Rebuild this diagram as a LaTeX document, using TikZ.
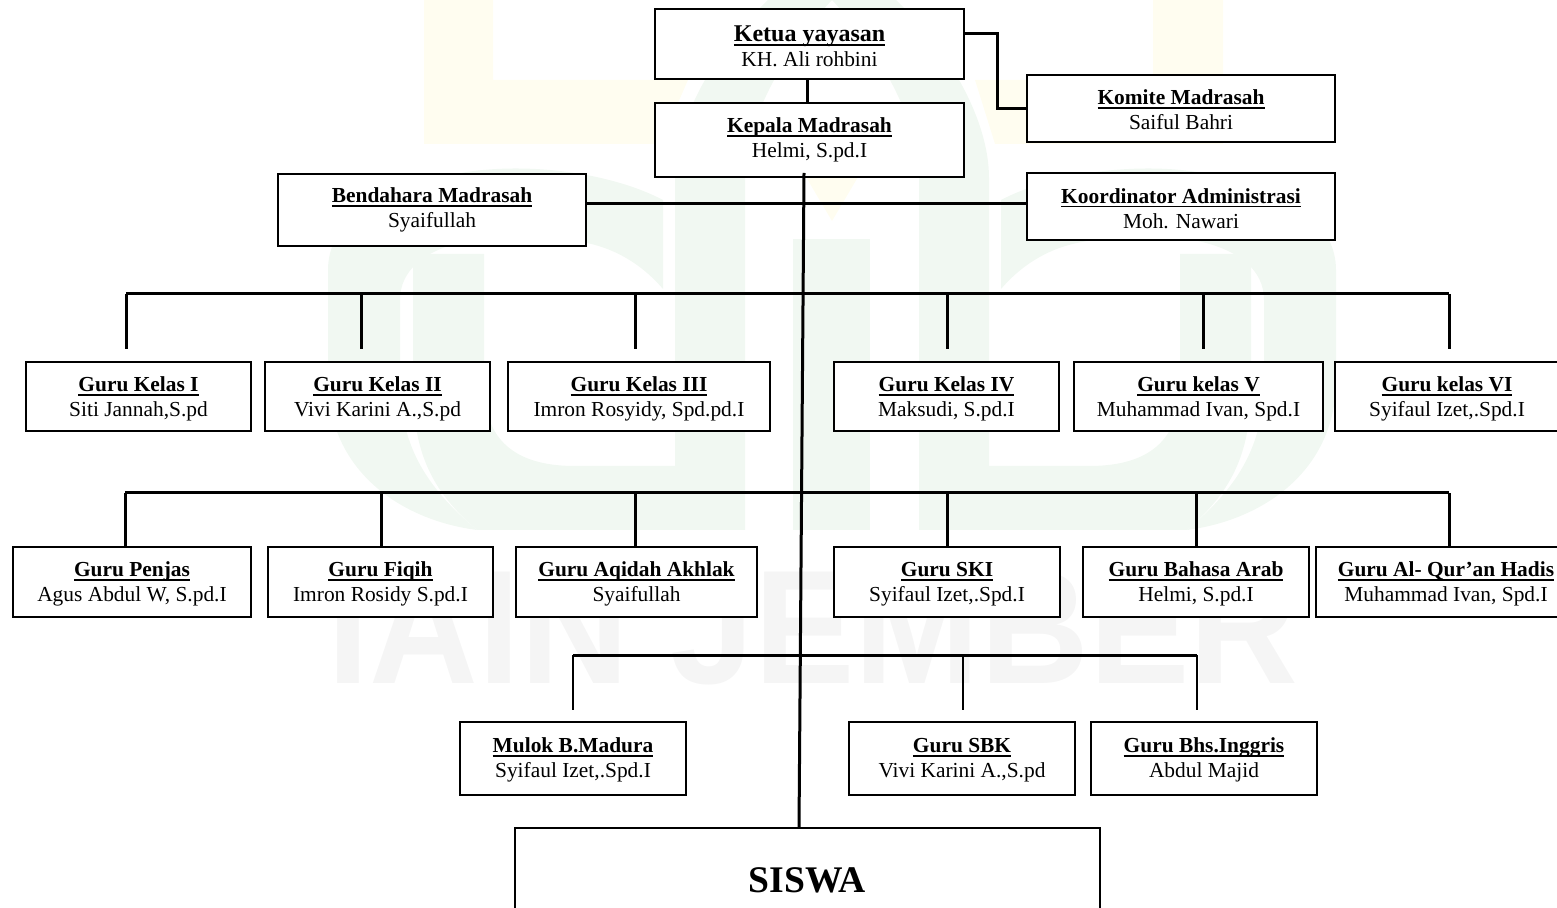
\documentclass[tikz,border=0pt]{standalone}
\usepackage{fontspec}
\setmainfont{Liberation Serif}
\setsansfont{Liberation Sans}
\definecolor{wmgreen}{HTML}{F1F8F2}
\definecolor{wmyellow}{HTML}{FFFDF0}
\definecolor{wmgray}{HTML}{F5F5F5}
\newsavebox{\headbox}
\newcommand{\orgtext}[3][10]{\sbox{\headbox}{\bfseries #2}\rule{0pt}{#1pt}\smash{\rlap{\rule[-2.1pt]{\wd\headbox}{0.9pt}}\usebox{\headbox}}\\#3\rule[-2.75pt]{0pt}{2.75pt}}
\newcommand{\logoside}{%
\fill[wmgreen] (663,200) .. controls (610,172) and (520,160) .. (450,175)
  .. controls (370,190) and (328,225) .. (328,270) -- (328,380)
  .. controls (328,470) and (400,520) .. (477,530)
  .. controls (430,490) and (400,450) .. (400,380) -- (400,300)
  .. controls (400,240) and (500,225) .. (587,243)
  .. controls (620,250) and (645,268) .. (663,289) -- cycle;
\fill[wmgreen] (413,254) -- (484,254) -- (484,385)
  .. controls (484,440) and (515,466) .. (575,466) -- (675,466) -- (675,178)
  .. controls (675,120) and (715,50) .. (768,0) -- (832,0)
  .. controls (785,50) and (745,120) .. (745,178) -- (745,530) -- (477,530)
  .. controls (430,490) and (413,450) .. (413,385) -- cycle;
}
\tikzset{
  orgbox/.style={draw=black,fill=white,line width=1.1pt,inner sep=0pt,outer sep=0pt,align=center,
    font=\fontsize{10.7}{12.5}\selectfont},
  linkline/.style={draw=black,line width=1.5pt},
  thinlink/.style={draw=black,line width=1.2pt}
}
\begin{document}
\begin{tikzpicture}[x=0.5pt,y=-0.5pt]
\useasboundingbox (0,0) rectangle (1557,908);

% watermark
\fill[wmyellow] (424,0) -- (493,0) -- (493,80) -- (688,80) -- (660,144) -- (424,144) -- cycle;
\fill[wmyellow] (1223,0) -- (1153,0) -- (1153,80) -- (975,80) -- (995,144) -- (1223,144) -- cycle;
\fill[wmyellow] (790,150) -- (874,150) -- (832,221) -- cycle;
\logoside
\begin{scope}[shift={(1664,0)},xscale=-1]
\logoside
\end{scope}
\fill[wmgreen] (793,239) rectangle (870,530);
\node[text=wmgray,font=\sffamily\bfseries\fontsize{81}{81}\selectfont,xscale=0.93,inner sep=0pt] (wmtext) at (813,629) {IAIN JEMBER};

% top
\node[orgbox,minimum width=154.5pt,minimum height=35pt] (ketua) at (809.5,44) {\orgtext[13]{\fontsize{12}{12}\selectfont Ketua yayasan}{KH. Ali rohbini}};
\node[orgbox,minimum width=154.5pt,minimum height=37pt] (kepala) at (809.5,140) {\orgtext[8]{Kepala Madrasah}{Helmi, S.pd.I}};
\node[orgbox,minimum width=154pt,minimum height=33.5pt] (komite) at (1181,108.5) {\orgtext[11.5]{Komite Madrasah}{Saiful Bahri}};
\node[orgbox,minimum width=154pt,minimum height=36pt] (bendahara) at (432,210) {\orgtext[8]{Bendahara Madrasah}{Syaifullah}};
\node[orgbox,minimum width=154pt,minimum height=33.5pt] (koordinator) at (1181,206.5) {\orgtext[12]{Koordinator Administrasi}{Moh. Nawari}};

% guru kelas
\node[orgbox,minimum width=112.5pt,minimum height=34.5pt] (kelasa) at (138.5,396.5) {\orgtext[10.5]{Guru Kelas I}{Siti Jannah,S.pd}};
\node[orgbox,minimum width=112.5pt,minimum height=34.5pt] (kelasb) at (377.5,396.5) {\orgtext[10.5]{Guru Kelas II}{Vivi Karini A.,S.pd}};
\node[orgbox,minimum width=131pt,minimum height=34.5pt] (kelasc) at (639,396.5) {\orgtext[10.5]{Guru Kelas III}{Imron Rosyidy, Spd.pd.I}};
\node[orgbox,minimum width=112.5pt,minimum height=34.5pt] (kelasd) at (946.5,396.5) {\orgtext[10.5]{Guru Kelas IV}{Maksudi, S.pd.I}};
\node[orgbox,minimum width=124.5pt,minimum height=34.5pt] (kelase) at (1198.5,396.5) {\orgtext[10.5]{Guru kelas V}{Muhammad Ivan, Spd.I}};
\node[orgbox,minimum width=112pt,minimum height=34.5pt] (kelasf) at (1447,396.5) {\orgtext[10.5]{Guru kelas VI}{Syifaul Izet,.Spd.I}};

% guru mapel
\node[orgbox,minimum width=119pt,minimum height=35pt] (penjas) at (132,582) {\orgtext{Guru Penjas}{Agus Abdul W, S.pd.I}};
\node[orgbox,minimum width=112.5pt,minimum height=35pt] (fiqih) at (380.5,582) {\orgtext{Guru Fiqih}{Imron Rosidy S.pd.I}};
\node[orgbox,minimum width=120.5pt,minimum height=35pt] (aqidah) at (636.5,582) {\orgtext{Guru Aqidah Akhlak}{Syaifullah}};
\node[orgbox,minimum width=113pt,minimum height=35pt] (ski) at (947,582) {\orgtext{Guru SKI}{Syifaul Izet,.Spd.I}};
\node[orgbox,minimum width=113pt,minimum height=35pt] (arab) at (1196,582) {\orgtext{Guru Bahasa Arab}{Helmi, S.pd.I}};
\node[orgbox,minimum width=130pt,minimum height=35pt] (quran) at (1446,582) {\orgtext{Guru Al- Qur’an Hadis}{Muhammad Ivan, Spd.I}};

% muatan lokal
\node[orgbox,minimum width=113pt,minimum height=36.5pt] (mulok) at (573,758.5) {\orgtext[9.5]{Mulok B.Madura}{Syifaul Izet,.Spd.I}};
\node[orgbox,minimum width=113pt,minimum height=36.5pt] (sbk) at (962,758.5) {\orgtext[9.5]{Guru SBK}{Vivi Karini A.,S.pd}};
\node[orgbox,minimum width=113pt,minimum height=36.5pt] (inggris) at (1204,758.5) {\orgtext[9.5]{Guru Bhs.Inggris}{Abdul Majid}};

\node[orgbox,minimum width=292.5pt,minimum height=52pt,font=\fontsize{18.8}{18.8}\selectfont\bfseries] (siswa) at (807.5,880) {SISWA};

% rails
\coordinate (rela) at (126,294);
\coordinate (relb) at (361,294);
\coordinate (relc) at (635,294);
\coordinate (reld) at (947,294);
\coordinate (rele) at (1203,294);
\coordinate (relf) at (1449,294);
\coordinate (rega) at (125,493);
\coordinate (regb) at (381,493);
\coordinate (regc) at (635,493);
\coordinate (regd) at (947,493);
\coordinate (rege) at (1196,493);
\coordinate (regf) at (1449,493);
\coordinate (rima) at (573,655);
\coordinate (rimb) at (963,655);
\coordinate (rimc) at (1197,655);
\coordinate (komjoin) at (997,110);

\draw[linkline] ([xshift=-1.25pt]ketua.south) -- ([xshift=-1.25pt]kepala.north);
\draw[linkline] ([yshift=5pt]ketua.east) -| (komjoin);
\draw[linkline] (komite.west) -- (komite.west -| komjoin);
\draw[linkline] ([yshift=3pt]bendahara.east) -- ([yshift=1.25pt]koordinator.west);
\draw[linkline] ([xshift=-2.75pt,yshift=2pt]kepala.south) -- ([xshift=-4.25pt]siswa.north);

\draw[linkline] (rela) -- (relf);
\draw[linkline,shorten >=6.5pt] (rela) -- (rela |- kelasa.north);
\draw[linkline,shorten >=6.5pt] (relb) -- (relb |- kelasb.north);
\draw[linkline,shorten >=6.5pt] (relc) -- (relc |- kelasc.north);
\draw[linkline,shorten >=6.5pt] (reld) -- (reld |- kelasd.north);
\draw[linkline,shorten >=6.5pt] (rele) -- (rele |- kelase.north);
\draw[linkline,shorten >=6.5pt] (relf) -- (relf |- kelasf.north);

\draw[linkline] (rega) -- (regf);
\draw[linkline] (rega) -- (rega |- penjas.north);
\draw[linkline] (regb) -- (regb |- fiqih.north);
\draw[linkline] (regc) -- (regc |- aqidah.north);
\draw[linkline] (regd) -- (regd |- ski.north);
\draw[linkline] (rege) -- (rege |- arab.north);
\draw[linkline] (regf) -- (regf |- quran.north);

\draw[linkline] (rima) -- (rimc);
\draw[thinlink,shorten >=6pt] (rima) -- (rima |- mulok.north);
\draw[thinlink,shorten >=6pt] (rimb) -- (rimb |- sbk.north);
\draw[thinlink,shorten >=6pt] (rimc) -- (rimc |- inggris.north);
\end{tikzpicture}
\end{document}
